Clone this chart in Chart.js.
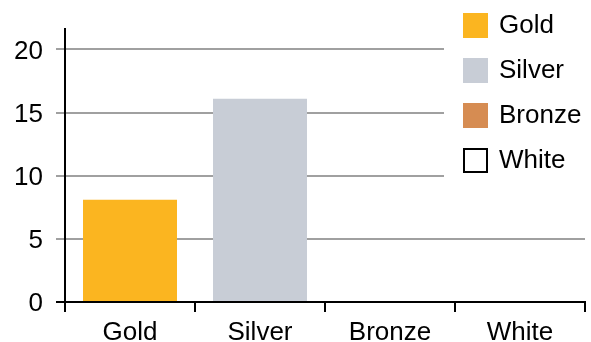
<!DOCTYPE html>
<html>
<head>
<meta charset="utf-8">
<script src="https://cdn.jsdelivr.net/npm/chart.js@4"></script>
<style>
  html, body { margin: 0; padding: 0; background: #fff; }
  #wrap { width: 591px; height: 342px; }
</style>
</head>
<body>
<div id="wrap"><canvas id="chart" width="591" height="342"></canvas></div>
<script>
const categories = ['Gold', 'Silver', 'Bronze', 'White'];
const medalCounts = [8.1, 16.1, 0, 0];
const yTicks = [0, 5, 10, 15, 20];
const barColors = ['#fbb520', '#c8cdd6', '#d68c52', '#ffffff'];
const legendBorders = ['#fbb520', '#c8cdd6', '#d68c52', '#000000'];

const FONT = '"Liberation Sans", Arial, Helvetica, sans-serif';

// legend sits on top of the plot with a white background (covers the upper gridlines)
const medalLegend = {
  id: 'medalLegend',
  afterDraw(chart) {
    const ctx = chart.ctx;
    ctx.save();
    ctx.fillStyle = '#fff';
    ctx.fillRect(444, 0, chart.width - 444, 190);
    ctx.font = '26px ' + FONT;
    ctx.textBaseline = 'middle';
    ctx.textAlign = 'left';
    categories.forEach((name, i) => {
      const y = 13 + i * 45;
      if (barColors[i] === '#ffffff') {
        ctx.fillStyle = '#fff';
        ctx.fillRect(464, y + 1, 23, 23);
        ctx.lineWidth = 2;
        ctx.strokeStyle = legendBorders[i];
        ctx.strokeRect(464, y + 1, 23, 23);
      } else {
        ctx.fillStyle = barColors[i];
        ctx.fillRect(463, y, 25, 25);
      }
      ctx.fillStyle = '#000';
      ctx.fillText(name, 499, y + 13);
    });
    ctx.restore();
  }
};

new Chart(document.getElementById('chart'), {
  type: 'bar',
  data: {
    labels: categories,
    datasets: [{
      data: medalCounts,
      backgroundColor: barColors,
      borderWidth: 0,
      categoryPercentage: 1,
      barPercentage: 0.723
    }]
  },
  options: {
    responsive: false,
    animation: false,
    layout: { padding: { left: 14, right: 6, top: 27, bottom: 0 } },
    plugins: {
      legend: { display: false },
      tooltip: { enabled: false }
    },
    scales: {
      x: {
        offset: true,
        afterFit(scale) { scale.height = 40; },
        border: { color: '#000', width: 2 },
        grid: {
          offset: true,
          drawOnChartArea: false,
          drawTicks: true,
          tickLength: 10,
          color: '#000',
          lineWidth: 2
        },
        ticks: {
          color: '#000',
          padding: 8,
          font: { family: FONT, size: 26, lineHeight: 1 }
        }
      },
      y: {
        min: 0,
        max: 21.65,
        afterFit(scale) { scale.width = 51; },
        border: { color: '#000', width: 2 },
        afterBuildTicks(scale) {
          scale.ticks = yTicks.map(v => ({ value: v }));
        },
        grid: {
          color: ctx => ctx.tick && ctx.tick.value === 0 ? '#000' : '#a0a0a0',
          lineWidth: 2,
          tickLength: 9
        },
        ticks: {
          color: '#000',
          padding: 13,
          labelOffset: 2,
          font: { family: FONT, size: 26 }
        }
      }
    }
  },
  plugins: [medalLegend]
});
</script>
</body>
</html>
